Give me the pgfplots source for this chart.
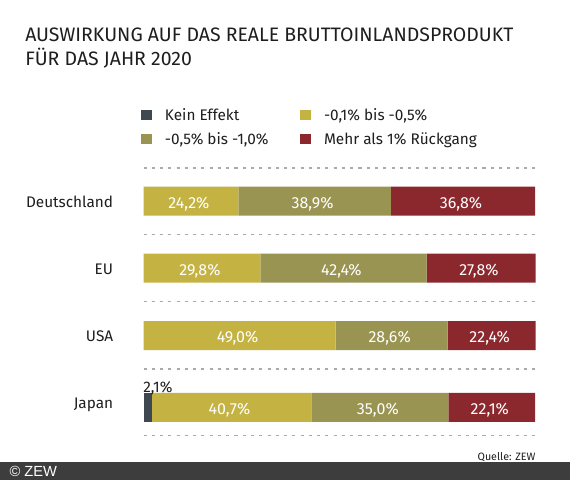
\documentclass[border=0pt]{standalone}
\usepackage{fontspec}
\setmainfont{Fira Sans}
\newfontfamily\footfont{Liberation Sans}
\usepackage{pgfplots}
\usepackage{pgfplotstable}
\pgfplotsset{compat=1.18}
\definecolor{keinC}{HTML}{3F4850}
\definecolor{gelbC}{HTML}{C4B342}
\definecolor{olivC}{HTML}{9A9453}
\definecolor{rotC}{HTML}{8B282D}
\definecolor{fussC}{HTML}{3D3D3D}
\definecolor{strichC}{HTML}{AAAAAA}
\definecolor{textC}{HTML}{1E1E1E}

% pos = bar centre (px from top), shares in percent
\pgfplotstableread{
pos   kein gelb oliv rot
201.2 0    24.2 38.9 36.8
268.0 0    29.8 42.4 27.8
335.5 0    49.0 28.6 22.4
407.3 2.1  40.7 35.0 22.1
}\bipdata

% stacked bars already put the label in the middle of each segment
\pgfplotsset{
  inbar/.style={
    visualization depends on={\thisrow{#1} \as \inc},
    nodes near coords={\pgfmathprintnumber[fixed,fixed zerofill,precision=1,use comma,assume math mode=true]{\inc}\%},
    every node near coord/.append style={anchor=base, text=white, inner sep=0pt,
      xshift=-1.5pt, yshift=-5.3pt, font=\fontsize{12}{14}\selectfont}},
}

\begin{document}
\begin{tikzpicture}
\path[use as bounding box, fill=white] (0,0) rectangle (427.5pt,360pt);
\fill[fussC] (0,0) rectangle (427.5pt,13.5pt);
\node[anchor=base west, white, inner sep=0pt, font=\footfont\fontsize{11}{13}\selectfont] at (7pt,2.4pt) {© ZEW};
\node[anchor=base east, textC, inner sep=0pt, font=\fontsize{8}{10}\selectfont] at (401.8pt,15pt) {Quelle: ZEW};
\node[anchor=base west, textC, inner sep=0pt, font=\fontsize{14.6}{17}\selectfont] at (18.75pt,328.7pt) {AUSWIRKUNG AUF DAS REALE BRUTTOINLANDSPRODUKT};
\node[anchor=base west, textC, inner sep=0pt, font=\fontsize{14.6}{17}\selectfont] at (18.75pt,311.25pt) {FÜR DAS JAHR 2020};

\begin{axis}[
  at={(107.625pt,240pt)}, anchor=north west,
  scale only axis, width=294pt, height=213.75pt,
  xbar stacked, bar width=21.75pt,
  xmin=0, xmax=100, ymin=160, ymax=445, y dir=reverse,
  axis line style={draw=none}, major tick length=0pt,
  xtick=\empty,
  ytick={201.2,268,335.5,402.5},
  yticklabels={Deutschland,EU,USA,Japan},
  yticklabel style={anchor=base east, inner sep=0pt, xshift=-22.6pt, yshift=-4.6pt,
    text=textC, font=\fontsize{11.5}{13}\selectfont},
  extra y ticks={168,234.7,301.7,369,435.3},
  extra y tick labels={},
  extra y tick style={grid=major,
    major grid style={strichC, line width=0.9pt, dash pattern=on 2.3pt off 3.9pt}},
  clip=false,
  legend columns=2,
  legend cell align=left,
  legend image code/.code={\fill[#1] (0pt,-3.95pt) rectangle (7.9pt,3.95pt);},
  legend style={at={(-0.0064,1.192)}, anchor=north west, draw=none, fill=none,
    inner sep=0pt, row sep=3.5pt, text=textC, font=\fontsize{11.5}{13}\selectfont,
    /tikz/every odd column/.append style={column sep=7.9pt},
    /tikz/every even column/.append style={column sep=21.75pt}},
]
\addplot[draw=none, fill=keinC] table[x=kein, y=pos] {\bipdata};
\addlegendentry{Kein Effekt}
\addplot[draw=none, fill=gelbC, inbar=gelb] table[x=gelb, y=pos] {\bipdata};
\addlegendentry{-0,1\% bis -0,5\%}
\addplot[draw=none, fill=olivC, inbar=oliv] table[x=oliv, y=pos] {\bipdata};
\addlegendentry{-0,5\% bis -1,0\%}
\addplot[draw=none, fill=rotC, inbar=rot] table[x=rot, y=pos] {\bipdata};
\addlegendentry{Mehr als 1\% Rückgang}
% label of the small Japan share, above its bar
\addplot[stack plots=false, draw=none, fill=none, forget plot,
  visualization depends on=x \as \rawx,
  nodes near coords={\pgfmathprintnumber[fixed,fixed zerofill,precision=1,use comma,assume math mode=true]{\rawx}\%},
  every node near coord/.append style={anchor=base, text=textC, inner sep=0pt,
    xshift=7.7pt, yshift=11.3pt, font=\fontsize{11.5}{13}\selectfont}]
  coordinates {(2.1,407.3)};
\end{axis}
\end{tikzpicture}
\end{document}
